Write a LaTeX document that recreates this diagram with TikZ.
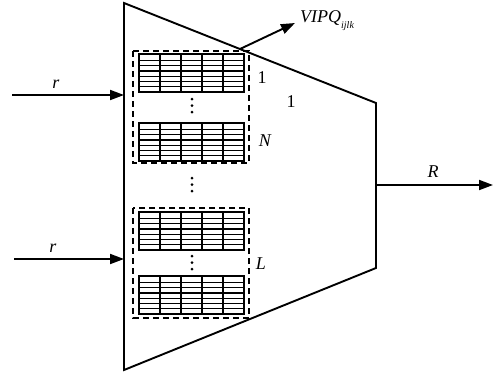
\documentclass[tikz,border=0pt]{standalone}
\usepackage{fontspec}
\setmainfont{Liberation Serif}
\usetikzlibrary{arrows.meta}
\begin{document}
\begin{tikzpicture}[x=1pt,y=-1pt,
  edge/.style={line width=1.9pt,line join=miter},
  flow/.style={line width=1.9pt,-{Triangle[length=14pt,width=10pt]}},
  groupbox/.style={line width=1.6pt,dash pattern=on 6pt off 4pt},
  lbl/.style={font=\fontsize{18}{21}\selectfont\itshape,inner sep=0pt},
  num/.style={font=\fontsize{18}{21}\selectfont,inner sep=0pt},
  cbtable/.pic={
    \draw[line width=1.4pt] \foreach \x in {21,42,63,84} {(\x,0) -- (\x,38)};
    \draw[line width=1.4pt] \foreach \i in {1,...,6} {(0,{6.5+(\i-1)*5.25}) -- (105,{6.5+(\i-1)*5.25})};
    \draw[line width=2pt] (0,0) rectangle (105,38);
  },
  vdots/.pic={
    \fill (0,0) circle (1.5pt) (0,6.5) circle (1.5pt) (0,13) circle (1.5pt);
  }
]
\useasboundingbox (0,0) rectangle (493,376);
% trapezoid
\coordinate (tl) at (124,3);
\coordinate (tr) at (376,103);
\coordinate (br) at (376,268);
\coordinate (bl) at (124,370);
\draw[edge] (tl) -- (tr) -- (br) -- (bl) -- cycle;

% dashed groups
\draw[groupbox] (133,51) rectangle (249,163);
\draw[groupbox] (133,208) rectangle (249,318);

% tables
\pic at (139,54) {cbtable};
\pic at (139,123) {cbtable};
\pic at (139,212) {cbtable};
\pic at (139,276) {cbtable};

% dots
\pic at (192,99) {vdots};
\pic at (192,178) {vdots};
\pic at (192,256) {vdots};

% labels
\node[num] (one) at (262,78) {1};
\node[lbl] (nlab) at (265,141) {N};
\node[num] (oneb) at (291,102) {1};
\node[lbl] (llab) at (261,264) {L};

% inputs
\coordinate (in1) at (12,95);
\coordinate (in1e) at (124,95);
\coordinate (in2) at (14,259);
\coordinate (in2e) at (124,259);
\draw[flow] (in1) -- (in1e);
\draw[flow] (in2) -- (in2e);
\node[lbl] (r1) at (56,84) {r};
\node[lbl] (r2) at (53,248) {r};

% output
\coordinate (out) at (493,185);
\coordinate (outs) at (376,185);
\draw[flow] (outs) -- (out);
\node[lbl] (Rlab) at (433,172) {R};

% VIPQ arrow
\coordinate (vs) at (240,49);
\coordinate (ve) at (295,23);
\draw[flow] (vs) -- (ve);
\node[lbl,anchor=base west] (vipq) at (300,22) {VIPQ\raisebox{-6pt}{\fontsize{10}{12}\selectfont ijlk}};
\end{tikzpicture}
\end{document}
